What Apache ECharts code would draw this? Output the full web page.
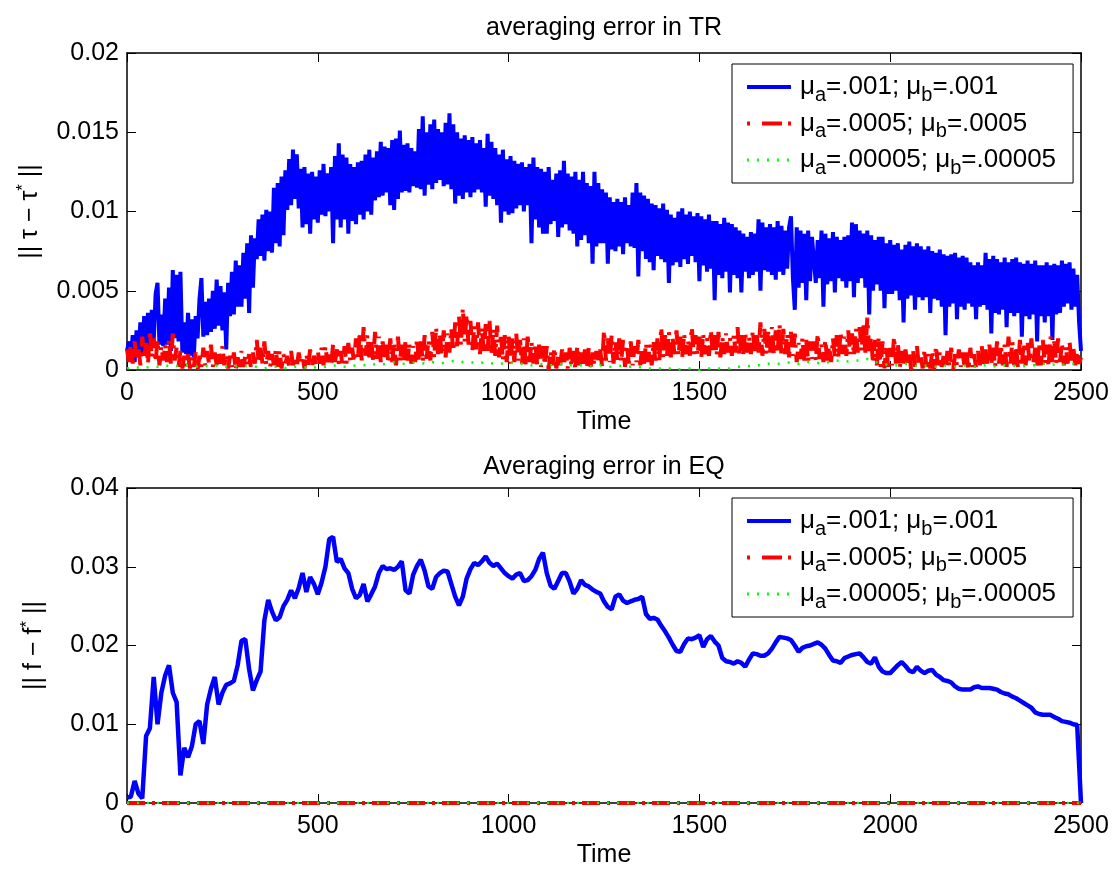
<!DOCTYPE html>
<html><head><meta charset="utf-8">
<script src="https://cdn.jsdelivr.net/npm/echarts@6/dist/echarts.min.js"></script>
<style>html,body{margin:0;padding:0;background:#fff}#c{width:1114px;height:869px}</style>
</head><body><div id="c"></div>
<script>
// ---------- data ----------
const TR_STEP = 5;        // time spacing of TR blue / red samples
const TR_GREEN_STEP = 20; // time spacing of TR green samples
const EQ_STEP = 10;       // time spacing of EQ blue samples
const xTickValues = [0, 500, 1000, 1500, 2000, 2500];
const trTickValues = [0, 0.005, 0.01, 0.015, 0.02];
const eqTickValues = [0, 0.01, 0.02, 0.03, 0.04];
const seriesNames = ['mu .001', 'mu .0005', 'mu .00005'];
const legendValues = [['.001', '.001'], ['.0005', '.0005'], ['.00005', '.00005']];
const titles = ['averaging error in TR', 'Averaging error in EQ'];

const trBlue = [
0.0012,0.0018,0.0007,0.0022,0.0005,0.0025,0.0010,0.0030,0.0009,0.0034,0.0015,0.0036,0.0014,0.0038,0.0018,0.0048,0.0055,0.0016,0.0035,0.0015,
0.0045,0.0016,0.0052,0.0012,0.0063,0.0020,0.0060,0.0018,0.0062,0.0011,0.0030,0.0010,0.0036,0.0009,0.0032,0.0008,0.0034,0.0020,0.0045,0.0058,
0.0021,0.0043,0.0022,0.0045,0.0024,0.0050,0.0026,0.0057,0.0028,0.0053,0.0025,0.0049,0.0013,0.0055,0.0034,0.0062,0.0035,0.0069,0.0040,0.0066,
0.0040,0.0074,0.0045,0.0080,0.0036,0.0085,0.0052,0.0083,0.0070,0.0095,0.0072,0.0098,0.0069,0.0101,0.0075,0.0100,0.0074,0.0115,0.0080,0.0118,
0.0078,0.0122,0.0085,0.0126,0.0101,0.0133,0.0104,0.0139,0.0108,0.0136,0.0102,0.0127,0.0090,0.0128,0.0092,0.0124,0.0086,0.0125,0.0095,0.0122,
0.0093,0.0126,0.0098,0.0130,0.0097,0.0124,0.0100,0.0128,0.0080,0.0135,0.0095,0.0143,0.0090,0.0136,0.0095,0.0134,0.0086,0.0130,0.0094,0.0128,
0.0092,0.0131,0.0098,0.0132,0.0095,0.0136,0.0100,0.0139,0.0098,0.0134,0.0107,0.0138,0.0109,0.0144,0.0110,0.0141,0.0112,0.0140,0.0104,0.0145,
0.0101,0.0146,0.0108,0.0151,0.0112,0.0142,0.0113,0.0143,0.0112,0.0140,0.0116,0.0138,0.0115,0.0152,0.0114,0.0160,0.0110,0.0150,0.0117,0.0155,
0.0114,0.0158,0.0118,0.0152,0.0120,0.0150,0.0116,0.0156,0.0117,0.0162,0.0114,0.0155,0.0105,0.0150,0.0110,0.0146,0.0108,0.0148,0.0112,0.0145,
0.0109,0.0147,0.0112,0.0143,0.0114,0.0145,0.0112,0.0140,0.0103,0.0149,0.0110,0.0144,0.0108,0.0140,0.0104,0.0136,0.0093,0.0139,0.0100,0.0133,
0.0098,0.0135,0.0099,0.0132,0.0102,0.0130,0.0104,0.0131,0.0100,0.0128,0.0104,0.0130,0.0080,0.0134,0.0095,0.0128,0.0090,0.0127,0.0086,0.0125,
0.0086,0.0128,0.0092,0.0120,0.0094,0.0124,0.0084,0.0126,0.0090,0.0132,0.0092,0.0124,0.0088,0.0122,0.0086,0.0125,0.0078,0.0120,0.0082,0.0125,
0.0085,0.0118,0.0080,0.0116,0.0067,0.0125,0.0078,0.0118,0.0080,0.0114,0.0080,0.0112,0.0067,0.0109,0.0076,0.0106,0.0075,0.0108,0.0078,0.0106,
0.0073,0.0109,0.0080,0.0104,0.0078,0.0112,0.0077,0.0118,0.0059,0.0112,0.0075,0.0110,0.0070,0.0108,0.0068,0.0105,0.0063,0.0104,0.0072,0.0102,
0.0070,0.0105,0.0068,0.0101,0.0055,0.0098,0.0066,0.0096,0.0068,0.0100,0.0065,0.0102,0.0070,0.0098,0.0067,0.0100,0.0072,0.0097,0.0068,0.0099,
0.0056,0.0097,0.0066,0.0095,0.0062,0.0098,0.0064,0.0094,0.0044,0.0094,0.0060,0.0092,0.0058,0.0096,0.0062,0.0093,0.0049,0.0092,0.0060,0.0090,
0.0058,0.0088,0.0049,0.0086,0.0062,0.0084,0.0058,0.0087,0.0060,0.0086,0.0062,0.0095,0.0050,0.0093,0.0063,0.0090,0.0062,0.0092,0.0060,0.0090,
0.0057,0.0094,0.0062,0.0091,0.0060,0.0088,0.0064,0.0090,0.0097,0.0058,0.0038,0.0090,0.0052,0.0088,0.0055,0.0086,0.0044,0.0088,0.0056,0.0084,
0.0085,0.0055,0.0082,0.0058,0.0088,0.0040,0.0086,0.0054,0.0083,0.0056,0.0087,0.0049,0.0084,0.0058,0.0082,0.0056,0.0084,0.0052,0.0085,0.0056,
0.0093,0.0046,0.0092,0.0055,0.0088,0.0058,0.0086,0.0052,0.0088,0.0035,0.0085,0.0050,0.0082,0.0054,0.0084,0.0050,0.0084,0.0039,0.0080,0.0048,
0.0082,0.0048,0.0079,0.0050,0.0080,0.0044,0.0076,0.0030,0.0079,0.0045,0.0081,0.0047,0.0078,0.0038,0.0080,0.0046,0.0078,0.0044,0.0076,0.0046,
0.0078,0.0036,0.0075,0.0045,0.0074,0.0044,0.0076,0.0040,0.0073,0.0022,0.0072,0.0040,0.0073,0.0042,0.0074,0.0032,0.0071,0.0040,0.0072,0.0038,
0.0071,0.0042,0.0068,0.0040,0.0066,0.0032,0.0068,0.0040,0.0066,0.0041,0.0074,0.0038,0.0070,0.0023,0.0072,0.0036,0.0070,0.0035,0.0068,0.0038,
0.0071,0.0027,0.0068,0.0036,0.0070,0.0034,0.0071,0.0036,0.0068,0.0021,0.0067,0.0034,0.0069,0.0032,0.0067,0.0035,0.0069,0.0018,0.0066,0.0034,
0.0066,0.0030,0.0068,0.0034,0.0066,0.0019,0.0067,0.0035,0.0066,0.0036,0.0069,0.0040,0.0067,0.0042,0.0068,0.0038,0.0064,0.0040,0.0060,0.0030,
0.0012];

const trRed = [
0.0013,0.0005,0.0016,0.0004,0.0018,0.0006,0.0014,0.0003,0.0021,0.0007,0.0017,0.0004,0.0025,0.0008,0.0020,0.0005,0.0019,0.0003,0.0015,0.0006,
0.0016,0.0005,0.0019,0.0004,0.0023,0.0006,0.0014,0.0002,0.0012,0.0001,0.0009,0.0002,0.0010,0.0001,0.0008,0.0002,0.0011,0.0000,0.0009,0.0002,
0.0014,0.0003,0.0012,0.0004,0.0016,0.0002,0.0011,0.0003,0.0012,0.0004,0.0015,0.0003,0.0010,0.0001,0.0009,0.0002,0.0011,0.0000,0.0008,0.0002,
0.0012,0.0002,0.0009,0.0003,0.0010,0.0001,0.0011,0.0004,0.0019,0.0005,0.0014,0.0004,0.0018,0.0003,0.0012,0.0002,0.0010,0.0003,0.0013,0.0002,
0.0012,0.0001,0.0010,0.0004,0.0009,0.0002,0.0012,0.0003,0.0008,0.0002,0.0011,0.0004,0.0009,0.0001,0.0010,0.0003,0.0013,0.0002,0.0009,0.0003,
0.0012,0.0004,0.0014,0.0003,0.0015,0.0005,0.0011,0.0003,0.0016,0.0005,0.0013,0.0004,0.0012,0.0002,0.0015,0.0004,0.0017,0.0006,0.0014,0.0005,
0.0020,0.0007,0.0024,0.0006,0.0027,0.0009,0.0022,0.0008,0.0019,0.0006,0.0024,0.0007,0.0021,0.0005,0.0018,0.0006,0.0016,0.0004,0.0020,0.0005,
0.0018,0.0003,0.0021,0.0005,0.0016,0.0004,0.0019,0.0006,0.0017,0.0004,0.0015,0.0005,0.0020,0.0006,0.0018,0.0005,0.0022,0.0007,0.0019,0.0006,
0.0024,0.0008,0.0027,0.0010,0.0022,0.0009,0.0025,0.0008,0.0023,0.0011,0.0026,0.0012,0.0030,0.0015,0.0034,0.0016,0.0039,0.0018,0.0035,0.0016,
0.0031,0.0012,0.0028,0.0013,0.0030,0.0010,0.0027,0.0011,0.0029,0.0012,0.0031,0.0010,0.0026,0.0009,0.0028,0.0008,0.0023,0.0006,0.0022,0.0005,
0.0022,0.0004,0.0020,0.0005,0.0023,0.0006,0.0019,0.0004,0.0020,0.0003,0.0021,0.0005,0.0018,0.0004,0.0017,0.0003,0.0016,0.0002,0.0015,0.0003,
0.0015,0.0000,0.0012,0.0003,0.0014,0.0001,0.0010,0.0002,0.0013,0.0003,0.0011,0.0001,0.0014,0.0002,0.0012,0.0000,0.0015,0.0003,0.0011,0.0002,
0.0013,0.0001,0.0014,0.0002,0.0011,0.0003,0.0012,0.0004,0.0013,0.0002,0.0025,0.0006,0.0020,0.0005,0.0022,0.0004,0.0018,0.0006,0.0020,0.0005,
0.0019,0.0002,0.0016,0.0004,0.0018,0.0003,0.0015,0.0005,0.0019,0.0003,0.0014,0.0004,0.0017,0.0005,0.0016,0.0003,0.0018,0.0004,0.0020,0.0006,
0.0027,0.0008,0.0022,0.0009,0.0024,0.0008,0.0020,0.0010,0.0025,0.0009,0.0021,0.0008,0.0023,0.0010,0.0019,0.0009,0.0027,0.0010,0.0022,0.0009,
0.0021,0.0008,0.0023,0.0010,0.0020,0.0009,0.0025,0.0011,0.0022,0.0009,0.0024,0.0008,0.0021,0.0010,0.0023,0.0011,0.0020,0.0009,0.0022,0.0011,
0.0027,0.0009,0.0022,0.0010,0.0024,0.0011,0.0021,0.0010,0.0025,0.0012,0.0023,0.0011,0.0030,0.0009,0.0026,0.0010,0.0024,0.0011,0.0027,0.0010,
0.0025,0.0011,0.0029,0.0009,0.0026,0.0010,0.0023,0.0008,0.0024,0.0009,0.0023,0.0005,0.0017,0.0007,0.0020,0.0006,0.0019,0.0005,0.0018,0.0007,
0.0018,0.0006,0.0023,0.0007,0.0016,0.0005,0.0019,0.0006,0.0015,0.0005,0.0020,0.0008,0.0022,0.0007,0.0024,0.0010,0.0021,0.0009,0.0025,0.0010,
0.0023,0.0009,0.0026,0.0011,0.0027,0.0012,0.0030,0.0011,0.0033,0.0012,0.0021,0.0004,0.0019,0.0003,0.0021,0.0002,0.0018,0.0001,0.0016,0.0000,
0.0014,0.0003,0.0021,0.0004,0.0017,0.0001,0.0012,0.0002,0.0013,0.0003,0.0011,0.0000,0.0012,0.0002,0.0015,0.0003,0.0010,0.0001,0.0013,0.0002,
0.0010,0.0001,0.0012,0.0000,0.0015,0.0003,0.0011,0.0002,0.0009,0.0001,0.0012,0.0002,0.0014,0.0000,0.0010,0.0003,0.0013,0.0002,0.0011,0.0001,
0.0011,0.0000,0.0014,0.0002,0.0010,0.0001,0.0012,0.0003,0.0015,0.0002,0.0013,0.0004,0.0016,0.0003,0.0014,0.0002,0.0018,0.0004,0.0016,0.0003,
0.0016,0.0002,0.0021,0.0004,0.0018,0.0003,0.0015,0.0001,0.0019,0.0004,0.0017,0.0003,0.0018,0.0005,0.0020,0.0004,0.0014,0.0002,0.0017,0.0003,
0.0019,0.0004,0.0016,0.0002,0.0021,0.0005,0.0018,0.0004,0.0020,0.0005,0.0017,0.0003,0.0015,0.0004,0.0018,0.0005,0.0014,0.0003,0.0012,0.0004,
0.0008];

const trGreen = [
0.0001,0.0002,0.0001,0.0002,0.0002,0.0003,0.0002,0.0003,0.0003,0.0002,
0.0003,0.0002,0.0003,0.0002,0.0002,0.0003,0.0002,0.0002,0.0001,0.0002,
0.0002,0.0001,0.0002,0.0002,0.0001,0.0002,0.0002,0.0003,0.0002,0.0002,
0.0003,0.0003,0.0004,0.0003,0.0004,0.0005,0.0004,0.0004,0.0005,0.0004,
0.0005,0.0004,0.0005,0.0006,0.0005,0.0005,0.0004,0.0005,0.0004,0.0004,
0.0005,0.0004,0.0004,0.0003,0.0004,0.0003,0.0003,0.0004,0.0003,0.0003,
0.0003,0.0002,0.0003,0.0002,0.0002,0.0003,0.0002,0.0002,0.0001,0.0001,
0.0001,0.0001,0.0000,0.0001,0.0001,0.0000,0.0001,0.0001,0.0001,0.0001,
0.0002,0.0002,0.0003,0.0003,0.0004,0.0004,0.0004,0.0005,0.0004,0.0005,
0.0005,0.0004,0.0005,0.0006,0.0005,0.0006,0.0006,0.0007,0.0005,0.0004,
0.0003,0.0003,0.0004,0.0003,0.0002,0.0003,0.0002,0.0003,0.0002,0.0002,
0.0003,0.0002,0.0003,0.0003,0.0002,0.0003,0.0003,0.0002,0.0003,0.0003,
0.0004,0.0003,0.0004,0.0003,0.0004,0.0005];

const eqBlue = [
0.0007,0.0008,0.0028,0.0012,0.0006,0.0085,0.0095,0.0160,0.0100,0.0140,
0.0162,0.0175,0.0140,0.0128,0.0035,0.0070,0.0058,0.0072,0.0100,0.0104,
0.0075,0.0125,0.0145,0.0160,0.0125,0.0140,0.0150,0.0152,0.0155,0.0175,
0.0206,0.0208,0.0170,0.0143,0.0156,0.0167,0.0232,0.0258,0.0243,0.0232,
0.0236,0.0250,0.0258,0.0270,0.0260,0.0273,0.0292,0.0268,0.0287,0.0278,
0.0265,0.0280,0.0300,0.0335,0.0338,0.0306,0.0310,0.0298,0.0292,0.0272,
0.0260,0.0264,0.0278,0.0256,0.0265,0.0275,0.0292,0.0301,0.0297,0.0298,
0.0296,0.0300,0.0307,0.0270,0.0266,0.0290,0.0301,0.0309,0.0295,0.0275,
0.0272,0.0287,0.0292,0.0295,0.0294,0.0278,0.0262,0.0251,0.0262,0.0285,
0.0297,0.0305,0.0302,0.0307,0.0313,0.0305,0.0301,0.0304,0.0298,0.0292,
0.0288,0.0285,0.0290,0.0292,0.0282,0.0283,0.0288,0.0296,0.0310,0.0318,
0.0292,0.0276,0.0272,0.0282,0.0292,0.0292,0.0281,0.0266,0.0272,0.0283,
0.0277,0.0275,0.0271,0.0268,0.0266,0.0256,0.0249,0.0246,0.0262,0.0265,
0.0257,0.0254,0.0256,0.0258,0.0259,0.0262,0.0240,0.0234,0.0235,0.0233,
0.0225,0.0218,0.0210,0.0201,0.0193,0.0192,0.0202,0.0209,0.0208,0.0210,
0.0213,0.0198,0.0208,0.0212,0.0205,0.0200,0.0184,0.0180,0.0179,0.0177,
0.0180,0.0178,0.0173,0.0182,0.0190,0.0189,0.0187,0.0187,0.0190,0.0196,
0.0204,0.0211,0.0210,0.0209,0.0207,0.0200,0.0192,0.0197,0.0199,0.0200,
0.0202,0.0204,0.0201,0.0196,0.0188,0.0181,0.0180,0.0178,0.0184,0.0186,
0.0188,0.0189,0.0190,0.0185,0.0179,0.0177,0.0185,0.0173,0.0167,0.0165,
0.0165,0.0170,0.0175,0.0179,0.0174,0.0168,0.0166,0.0173,0.0168,0.0165,
0.0168,0.0169,0.0163,0.0160,0.0156,0.0155,0.0153,0.0148,0.0145,0.0144,
0.0144,0.0144,0.0147,0.0148,0.0146,0.0146,0.0146,0.0145,0.0144,0.0141,
0.0139,0.0138,0.0135,0.0133,0.0130,0.0127,0.0124,0.0121,0.0115,0.0113,
0.0112,0.0112,0.0112,0.0109,0.0107,0.0104,0.0103,0.0102,0.0100,0.0099,
0.0000];
const eqFlatTime = [0, 2500];
const eqRed = [0, 0];
const eqGreen = [0, 0];

// ---------- styling ----------
const FONT = '"Liberation Sans", Arial, Helvetica, sans-serif';
const COLORS = ['#0000ff', '#ff0000', '#00ff00'];
const grids = [
  {left: 127, top: 53, width: 954, height: 317},
  {left: 127, top: 488, width: 954, height: 318}
];
const withStep = (arr, step) => arr.map((v, i) => [i * step, v]);
const withTime = (t, arr) => arr.map((v, i) => [t[i], v]);

const lineStyles = [
  {color: COLORS[0], width: 4, type: 'solid'},
  {color: COLORS[1], width: 4, type: [18, 7, 3, 7]},
  {color: COLORS[2], width: 2.5, type: [2, 8]}
];
const eqLineWidth = 4.5;
const legendLineStyles = [
  {color: COLORS[0], width: 4, type: 'solid'},
  {color: COLORS[1], width: 4, type: [3, 12, 20, 6]},
  {color: COLORS[2], width: 3, type: [2, 8]}
];
const plainNum = v => String(v);

function xAxes(gi) {
  const base = {
    type: 'value', gridIndex: gi, min: 0, max: 2500, interval: 500,
    splitLine: {show: false},
    axisLine: {show: true, onZero: false, lineStyle: {color: '#000', width: 1.5}},
    axisTick: {show: true, inside: true, length: 9, lineStyle: {color: '#000', width: 1}}
  };
  return [
    Object.assign({}, base, {
      position: 'bottom', name: 'Time', nameLocation: 'middle', nameGap: 40,
      nameTextStyle: {fontSize: 25, fontFamily: FONT, color: '#000'},
      axisLabel: {show: true, margin: 11, fontSize: 25, fontFamily: FONT, color: '#000', formatter: plainNum}
    }),
    Object.assign({}, base, {position: 'top', axisLabel: {show: false}})
  ];
}
function yAxes(gi, max, interval, name) {
  const base = {
    type: 'value', gridIndex: gi, min: 0, max: max, interval: interval,
    splitLine: {show: false},
    axisLine: {show: true, onZero: false, lineStyle: {color: '#000', width: 1.5}},
    axisTick: {show: true, inside: true, length: 9, lineStyle: {color: '#000', width: 1}}
  };
  return [
    Object.assign({}, base, {
      position: 'left', name: name, nameLocation: 'middle', nameGap: 78,
      nameTextStyle: {fontSize: 25, fontFamily: FONT, color: '#000',
        rich: {sup: {fontSize: 17, fontFamily: FONT, color: '#000', padding: [0, 0, 14, 0], lineHeight: 30}}},
      axisLabel: {show: true, margin: 8, fontSize: 25, fontFamily: FONT, color: '#000', formatter: plainNum}
    }),
    Object.assign({}, base, {position: 'right', axisLabel: {show: false}})
  ];
}

function legendFor(top) {
  return {
    data: seriesNames.map(function (n, k) { return {name: n, lineStyle: legendLineStyles[k]}; }),
    orient: 'vertical', left: 732, top: top,
    padding: [5, 17, 5, 13], itemGap: 0.5, itemWidth: 44, itemHeight: 14,
    backgroundColor: '#fff', borderColor: '#000', borderWidth: 1, borderRadius: 0,
    selectedMode: false,
    itemStyle: {color: 'rgba(0,0,0,0)', borderColor: 'rgba(0,0,0,0)', borderWidth: 0, opacity: 0},
    formatter: function (name) {
      const v = legendValues[seriesNames.indexOf(name)];
      return '{p|μ}{s|a}{t|=' + v[0] + '; μ}{s|b}{t|=' + v[1] + '}';
    },
    textStyle: {
      fontSize: 26, fontFamily: FONT, color: '#000',
      rich: {
        p: {fontSize: 26, fontFamily: FONT, color: '#000', lineHeight: 30, padding: [0, 0, 0, 4]},
        t: {fontSize: 26, fontFamily: FONT, color: '#000', lineHeight: 30},
        s: {fontSize: 20, fontFamily: FONT, color: '#000', lineHeight: 30, padding: [16, 0, 0, 0]}
      }
    }
  };
}

const series = [];
const trData = [withStep(trBlue, TR_STEP), withStep(trRed, TR_STEP), withStep(trGreen, TR_GREEN_STEP)];
const eqData = [withStep(eqBlue, EQ_STEP), withTime(eqFlatTime, eqRed), withTime(eqFlatTime, eqGreen)];
[trData, eqData].forEach(function (set, gi) {
  set.forEach(function (d, k) {
    const ls = Object.assign({}, lineStyles[k]);
    if (gi === 1 && k === 0) ls.width = eqLineWidth;
    series.push({
      type: 'line', name: seriesNames[k], xAxisIndex: gi * 2, yAxisIndex: gi * 2,
      data: d, symbol: 'none', showSymbol: false, smooth: false,
      lineStyle: ls, itemStyle: {color: COLORS[k]},
      emphasis: {disabled: true}, silent: true, z: 2 + k
    });
  });
});

const option = {
  backgroundColor: '#fff',
  animation: false,
  title: titles.map(function (t, i) {
    return {text: t, left: 604, top: i === 0 ? 16 : 455, textAlign: 'center', padding: 0,
      textStyle: {fontSize: 25, fontWeight: 'normal', fontFamily: FONT, color: '#000'}};
  }),
  grid: grids,
  legend: [legendFor(64), legendFor(498)],
  xAxis: xAxes(0).concat(xAxes(1)),
  yAxis: yAxes(0, trTickValues[trTickValues.length - 1], trTickValues[1], '|| τ − τ{sup|*} ||')
    .concat(yAxes(1, eqTickValues[eqTickValues.length - 1], eqTickValues[1], '|| f − f{sup|*} ||')),
  series: series
};
const chart = echarts.init(document.getElementById('c'), null, {renderer: 'canvas'});
chart.setOption(option);
</script></body></html>
